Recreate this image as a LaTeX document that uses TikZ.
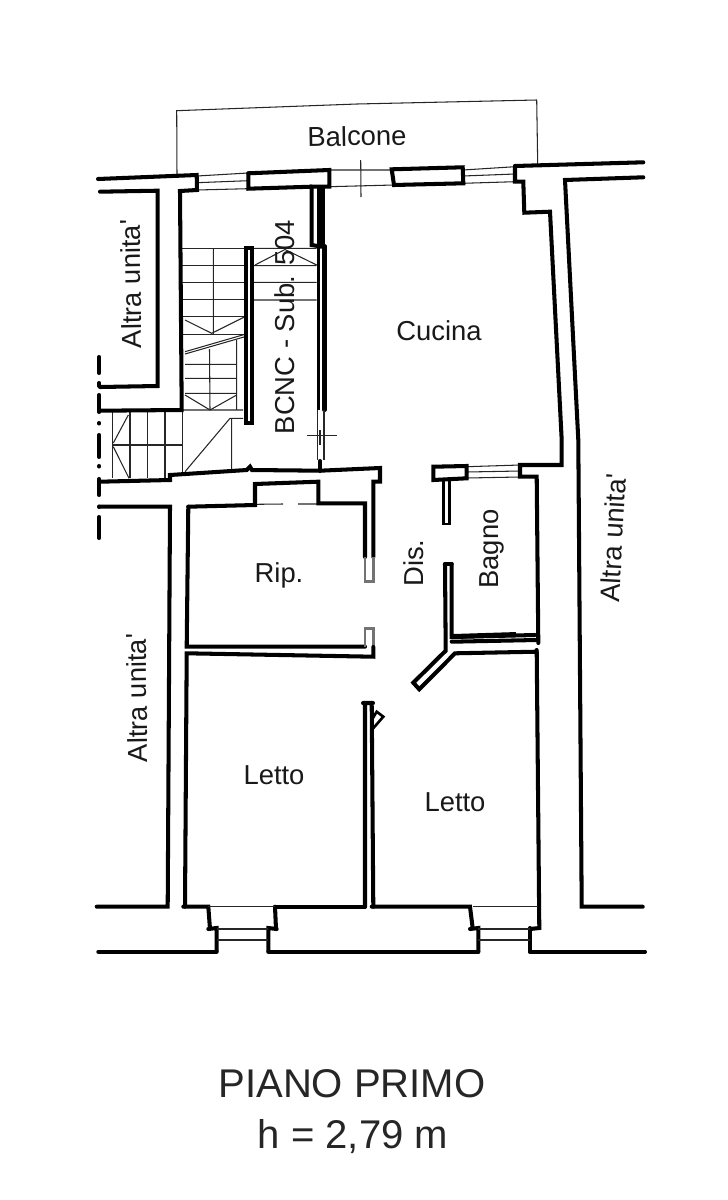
\documentclass[tikz,border=0pt]{standalone}
\usepackage{fontspec}
\setmainfont{Liberation Sans}
\tikzstyle{wall} = [line width=2.3pt, black, line cap=round]
\tikzstyle{thinwall} = [line width=1.5pt, black]
\tikzstyle{greywall} = [line width=1.7pt, black!55]
\tikzstyle{fine} = [line width=0.6pt, black!85]
\tikzstyle{room} = [font=\fontsize{15.6}{18}\selectfont, text=black!90, inner sep=0pt]
\tikzstyle{title} = [font=\fontsize{22.8}{27}\selectfont, text=black!85, inner sep=0pt]

\begin{document}
\begin{tikzpicture}[x=0.02cm, y=-0.02cm]
    \useasboundingbox (0,0) rectangle (727,1200);

    % balcony
    \draw [fine] (177,176) -- (176.7,110.7) -- (357,104) -- (536.7,100) -- (537.7,164);

    % windows
    \draw [fine] (197,176) -- (248,173) (197,182.7) -- (248,180.7) (197,190) -- (248,188.7);
    \draw [fine] (329,170) -- (392,170) (329,186.7) -- (394,185) (360.7,160) -- (361,197);
    \draw [fine] (463,170) -- (515,166.7) (463,176) -- (515,174) (463,183.3) -- (515,181.7);
    \draw [fine] (467,466.7) -- (520,465) (467,472) -- (520,471) (467,478) -- (520,477);
    \draw [fine] (307,435.7) -- (337,435.7) (320,430) -- (320,445);
    \draw [fine] (256.7,504.3) -- (283,504) (298,504) -- (318,504);

    % stairs
    \draw [fine] (181.7,248.3) -- (245,248.3) (181.7,265.7) -- (245,265.7) (181.7,282.3) -- (245,282.3)
        (181.7,299.3) -- (245,299.3) (181.7,316.7) -- (245,316.7) (181.7,334.3) -- (245,334.3);
    \draw [fine] (213.3,248) -- (213.3,334) (185,320) -- (211.7,333.3) -- (245,316.7);
    \draw [fine] (185,351.7) -- (245,334.3) (185,354) -- (245,336.7);
    \draw [fine] (185,364.3) -- (236.7,364.3) (185,378.3) -- (236.7,378.3) (185,393.3) -- (236.7,393.3)
        (183,410) -- (243,410) (209.5,349) -- (210,410) (236.7,340) -- (236.7,410);
    \draw [fine] (185,395) -- (210,410) -- (236.7,395);
    \draw [fine] (253,248.3) -- (316.7,248.3) (253,265.7) -- (316.7,265.7) (253,282.3) -- (316.7,282.3)
        (253,300) -- (316.7,300) (255,265) -- (285,249.5) -- (316.7,265);
    \draw [fine] (112.7,411.7) -- (112.7,478.3) (130,411.7) -- (130,478.3) (147.3,411.7) -- (147.3,478.3)
        (165,411.7) -- (165,478.3) (182.3,411.7) -- (182.3,475) (112.7,445) -- (182.7,445);
    \draw [fine] (128.3,415) -- (113.3,443) (113.3,446.7) -- (129,478.3);
    \draw [fine] (185,471.7) -- (230,418.3) -- (243,418.3) (231.7,418) -- (231.7,470);

    % outer walls
    \draw [wall] (98,179) -- (196.7,175) -- (197,190) -- (180,191) -- (181.7,410) -- (100,410.7);
    \draw [wall] (100,191.7) -- (157.7,190.7) -- (157.7,386) -- (100,387);
    \draw [wall] (248.3,173.3) -- (329.3,170) -- (329.3,186.7) -- (311.7,186.7) -- (311.7,245) -- (321.7,246.7);
    \draw [wall] (248.3,173.3) -- (248.3,188.7) -- (311.7,186.7);
    \draw [wall] (391.7,169.3) -- (462.7,167.3) -- (463.3,183.3) -- (394,185) -- cycle;
    \draw [wall] (515,166) -- (643.3,162.3);
    \draw [wall] (515,166) -- (515,181.7) -- (523.3,181.7) -- (524.3,212.7) -- (550,211.7) -- (561.7,440) -- (561.7,465) -- (520,465) -- (520,476.7) -- (536.7,476.7) -- (538.3,643);
    \draw [wall] (643.3,177.3) -- (565,180) -- (578.3,440) -- (581.7,906.7) -- (642.7,906.7);
    \fill [black] (316.7,185) rectangle (325,245);
    \draw [thinwall] (318.3,246) -- (318.3,410);
    \draw [wall] (324.5,246) -- (324.5,410);
    \draw [fine] (317.5,410) -- (317.5,460) (324,410) -- (324,460);
    \draw [wall] (320,461) -- (320,471);

    % stair spine
    \draw [wall] (246.3,248) -- (246.3,423.3) -- (252.2,423.3) -- (252.2,248) -- cycle;

    % dash-dot line on the left
    \draw [wall] (99.3,357) -- (99.3,373) (99.3,383) -- (99.3,386) (99.3,395) -- (99.3,412) (99.3,423) -- (99.3,423.5)
        (99.3,435) -- (99.3,457) (99.3,466) -- (99.3,466.5) (99.3,479) -- (99.3,495) (99.3,506.5) -- (99.3,507) (99.3,517) -- (99.3,538);

    % middle walls
    \draw [wall] (100,481.7) -- (170,480) -- (170,475) -- (246.7,470) -- (250,466.7) -- (252,470) -- (320,470.7) -- (380,468) -- (380,481.7) -- (373.3,481.7) -- (373.3,557);
    \draw [wall] (100,506.7) -- (170,506.7) -- (167.7,906.7) -- (96.7,906.7);
    \draw [wall] (188.3,506.7) -- (255,505) -- (255,484) -- (318.3,481.7) -- (318.3,503.3) -- (365,503.3) -- (365,557);
    \draw [greywall] (365,557) -- (365,581) -- (373.3,581) -- (373.3,557);
    \draw [wall] (188.3,506.7) -- (186.7,646.7) -- (365,646.7);
    \draw [greywall] (365,647) -- (365,628) -- (373.3,628) -- (373.3,647);
    \draw [wall] (373.3,647) -- (373.3,656.7) -- (186.7,653.3) -- (185,906.7);

    % bathroom
    \draw [wall] (433.3,466.7) -- (466.7,466) -- (466.7,478.3) -- (433.3,480) -- cycle;
    \draw [thinwall] (443.8,480) -- (443.8,524) -- (449.8,524) -- (449.8,480);
    \draw [wall] (445,564) -- (451.7,564);
    \draw [wall] (445,564) -- (445.7,650.7) -- (413.3,682.7) -- (419.3,689.3) -- (455,653.3) -- (536.7,651.7);
    \draw [wall] (451.7,564) -- (451.7,637) -- (535,635);
    \draw [wall] (451.7,641.7) -- (537,640);
    \draw [line width=2.8pt, black] (452,636.5) -- (516,634.5);
    \draw [wall] (536.7,650) -- (539.3,928) -- (530,929);

    % lower walls
    \draw [wall] (363,703) -- (373,703) (365,703) -- (365,906.7) (371.7,703) -- (373.3,906.7);
    \draw [thinwall] (371.7,730) -- (383.3,716.7) -- (376.7,711.7) -- (371.7,720);
    \draw [wall] (183.3,906.7) -- (208.3,906.7) -- (210,929) (208.3,929) -- (216.7,928) -- (216.7,951);
    \draw [wall] (275,906.7) -- (276,929) (276.7,929) -- (268.3,928) -- (268.3,951);
    \draw [wall] (275,906.7) -- (365,906.7);
    \draw [wall] (371.7,906.7) -- (470,906.7) -- (472.7,928.3) (470,929) -- (478.3,928) -- (478.3,951.7);
    \draw [wall] (530,928) -- (530,951.7);
    \draw [wall] (98.3,951.7) -- (216.7,951.7) (268.3,951.7) -- (478.3,951.7) (530,951.7) -- (645,951.7);

    % steps at the entrances
    \draw [fine] (208,906.7) -- (275,906.7) (216.7,929) -- (268.3,929) (216.7,940) -- (268.3,940);
    \draw [fine] (473.3,906.7) -- (538.3,906.7) (478.3,929) -- (530,929) (478.3,940) -- (530,940);

    % labels
    \node (balcone) [room, rotate=1] at (357,136) {Balcone};
    \node (cucina) [room] at (439,331) {Cucina};
    \node (altraA) [room, rotate=91] at (131,284) {Altra unita\textquotesingle};
    \node (altraB) [room, rotate=91] at (137,698) {Altra unita\textquotesingle};
    \node (altraC) [room, rotate=87] at (613,538) {Altra unita\textquotesingle};
    \node (bcnc) [room, rotate=90] at (285,327) {BCNC - Sub. 504};
    \node (rip) [room] at (279,575) {Rip.};
    \node (dis) [room, rotate=90] at (414,563) {Dis.};
    \node (bagno) [room, rotate=90] at (492,549) {Bagno};
    \node (lettoA) [room] at (274,775) {Letto};
    \node (lettoB) [room] at (455,802) {Letto};
    \node (piano) [title] at (352,1084) {PIANO PRIMO};
    \node (altezza) [title] at (353,1137) {h = 2,79 m};
\end{tikzpicture}
\end{document}
